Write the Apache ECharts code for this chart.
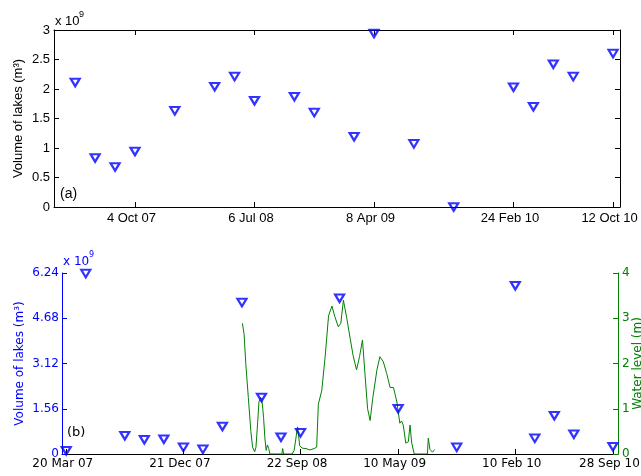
<!DOCTYPE html>
<html>
<head>
<meta charset="utf-8">
<title>Lake volume and water level</title>
<style>
  body { margin: 0; background: #fff; }
  #chart { width: 641px; height: 476px; }
</style>
<script src="https://cdn.jsdelivr.net/npm/echarts@6/dist/echarts.min.js"></script>
</head>
<body>
<div id="chart"></div>
<script>
// panel (a): lake volume, in 10^9 m3
var datesA = ['2007-05-19', '2007-07-04', '2007-08-19', '2007-10-04', '2008-01-04', '2008-04-05',
  '2008-05-21', '2008-07-06', '2008-10-06', '2008-11-21', '2009-02-21', '2009-04-08', '2009-07-09',
  '2009-10-09', '2010-02-24', '2010-04-11', '2010-05-27', '2010-07-12', '2010-10-12'];
var volumeA = [2.11, 0.83, 0.68, 0.94, 1.63, 2.04, 2.21, 1.80, 1.87, 1.60, 1.19, 2.94, 1.07,
  0.0, 2.03, 1.70, 2.42, 2.21, 2.60];
var ticksA = ['2007-10-04', '2008-07-06', '2009-04-08', '2010-02-24', '2010-10-12'];

// panel (b): lake volume, in 10^9 m3
var datesB = ['2007-03-20', '2007-05-05', '2007-08-05', '2007-09-20', '2007-11-05', '2007-12-21',
  '2008-02-05', '2008-03-22', '2008-05-07', '2008-06-22', '2008-08-07', '2008-09-22', '2008-12-23',
  '2009-05-10', '2009-09-25', '2010-02-10', '2010-03-28', '2010-05-13', '2010-06-28', '2010-09-28'];
var volumeB = [0.11, 6.22, 0.63, 0.49, 0.51, 0.23, 0.16, 0.95, 5.22, 1.95, 0.58, 0.73, 5.37,
  1.56, 0.23, 5.80, 0.54, 1.32, 0.68, 0.25];
var ticksB = ['2007-03-20', '2007-12-21', '2008-09-22', '2009-05-10', '2010-02-10', '2010-09-28'];

// panel (b): water level, m
var levelDates = ['2008-05-08', '2008-05-12', '2008-05-16', '2008-05-22', '2008-05-28', '2008-06-01',
  '2008-06-06', '2008-06-09', '2008-06-13', '2008-06-16', '2008-06-20', '2008-06-23', '2008-06-27',
  '2008-06-30', '2008-07-03', '2008-07-06', '2008-07-09', '2008-07-12', '2008-08-09', '2008-08-11',
  '2008-08-13', '2008-09-02', '2008-09-07', '2008-09-11', '2008-09-15', '2008-09-17', '2008-09-20',
  '2008-09-26', '2008-10-05', '2008-10-14', '2008-10-24', '2008-10-30', '2008-11-03', '2008-11-11',
  '2008-11-19', '2008-11-27', '2008-12-05', '2008-12-12', '2008-12-20', '2008-12-26', '2009-01-01',
  '2009-01-09', '2009-01-17', '2009-01-24', '2009-02-01', '2009-02-08', '2009-02-15', '2009-02-21',
  '2009-02-27', '2009-03-05', '2009-03-11', '2009-03-21', '2009-03-28', '2009-04-05', '2009-04-13',
  '2009-04-21', '2009-04-29', '2009-05-07', '2009-05-14', '2009-05-18', '2009-05-22', '2009-05-28',
  '2009-06-03', '2009-06-07', '2009-06-11', '2009-06-17', '2009-07-18', '2009-07-20', '2009-07-24',
  '2009-07-30', '2009-08-04'];
var levelValues = [2.89, 2.65, 2.00, 1.25, 0.50, 0.15,
  0.05, 0.15, 0.70, 1.15, 1.25, 1.20, 0.80,
  0.35, 0.08, 0.20, 0.12, 0.00, 0.00, 0.12,
  0.00, 0.00, 0.08, 0.12, 0.60, 0.45, 0.18,
  0.13, 0.12, 0.09, 0.12, 0.15, 1.10, 1.40,
  2.15, 3.05, 3.27, 3.03, 2.81, 2.89, 3.40,
  3.00, 2.55, 2.17, 1.86, 2.15, 2.52, 1.75,
  1.00, 0.74, 1.22, 1.86, 2.15, 2.04, 1.78,
  1.47, 1.47, 1.15, 0.68, 0.73, 0.64, 0.24,
  0.27, 0.64, 0.24, 0.00, 0.00, 0.35, 0.10,
  0.04, 0.10];

var months = ['Jan', 'Feb', 'Mar', 'Apr', 'May', 'Jun', 'Jul', 'Aug', 'Sep', 'Oct', 'Nov', 'Dec'];

function toTime(s) {
  var p = s.split('-');
  return Date.UTC(+p[0], +p[1] - 1, +p[2]);
}

function dateLabel(v) {
  var d = new Date(v);
  return d.getUTCDate() + ' ' + months[d.getUTCMonth()] + ' ' + String(d.getUTCFullYear()).slice(2);
}

function pairs(dates, values) {
  return dates.map(function (d, i) { return [toTime(d), values[i]]; });
}

var fontA = 'Liberation Sans, Arial, sans-serif';
var fontB = 'DejaVu Sans, sans-serif';
var blue = '#0000ff';
var green = '#008000';

var markerStyle = {
  symbol: 'triangle',
  symbolRotate: 180,
  symbolSize: [9, 7.5],
  itemStyle: { color: 'rgba(0,0,0,0)', borderColor: blue, borderWidth: 2.2 },
  clip: false,
  z: 5
};

var myChart = echarts.init(document.getElementById('chart'), null, { renderer: 'canvas' });

var option = {
  animation: false,
  backgroundColor: '#fff',
  grid: [
    { left: 54, top: 30, width: 566, height: 177, outerBoundsMode: 'none', containLabel: false },
    { left: 62, top: 273, width: 556, height: 181, outerBoundsMode: 'none', containLabel: false }
  ],
  xAxis: [
    {
      gridIndex: 0, type: 'value', min: toTime('2007-03-31'), max: toTime('2010-10-28'),
      axisLine: { show: true, onZero: false, lineStyle: { color: '#000', width: 1 } },
      axisTick: { show: true, inside: true, length: 5, customValues: ticksA.map(toTime), lineStyle: { color: '#000' } },
      axisLabel: {
        customValues: ticksA.map(toTime), formatter: dateLabel, color: '#000',
        fontFamily: fontA, fontSize: 13, margin: 5, padding: [0, 7, 0, 0]
      },
      splitLine: { show: false }
    },
    {
      gridIndex: 0, type: 'value', position: 'top', min: toTime('2007-03-31'), max: toTime('2010-10-28'),
      axisLine: { show: true, onZero: false, lineStyle: { color: '#000', width: 1 } },
      axisTick: { show: true, inside: true, length: 5, customValues: ticksA.map(toTime), lineStyle: { color: '#000' } },
      axisLabel: { show: false },
      splitLine: { show: false }
    },
    {
      gridIndex: 1, type: 'value', min: toTime('2007-03-10'), max: toTime('2010-10-10'),
      axisLine: { show: true, onZero: false, lineStyle: { color: '#000', width: 1 } },
      axisTick: { show: true, inside: true, length: 5, customValues: ticksB.map(toTime), lineStyle: { color: '#000' } },
      axisLabel: {
        customValues: ticksB.map(toTime), formatter: dateLabel, color: '#000',
        fontFamily: fontB, fontSize: 12, margin: 4, padding: [0, 7, 0, 0]
      },
      splitLine: { show: false }
    }
  ],
  yAxis: [
    {
      gridIndex: 0, type: 'value', min: 0, max: 3, interval: 0.5,
      name: 'Volume of lakes (m³)', nameLocation: 'middle', nameRotate: 90, nameGap: 29,
      nameMoveOverlap: false,
      nameTextStyle: { color: '#000', fontFamily: fontA, fontSize: 13 },
      axisLine: { show: true, lineStyle: { color: '#000', width: 1 } },
      axisTick: { show: true, inside: true, length: 5, lineStyle: { color: '#000' } },
      axisLabel: { color: '#000', fontFamily: fontA, fontSize: 13, margin: 4 },
      splitLine: { show: false }
    },
    {
      gridIndex: 0, type: 'value', position: 'right', min: 0, max: 3, interval: 0.5,
      axisLine: { show: true, lineStyle: { color: '#000', width: 1 } },
      axisTick: { show: true, inside: true, length: 5, lineStyle: { color: '#000' } },
      axisLabel: { show: false },
      splitLine: { show: false }
    },
    {
      gridIndex: 1, type: 'value', min: 0, max: 6.24, interval: 1.56,
      name: 'Volume of lakes (m³)', nameLocation: 'middle', nameRotate: 90, nameGap: 36,
      nameMoveOverlap: false,
      nameTextStyle: { color: blue, fontFamily: fontB, fontSize: 12 },
      axisLine: { show: true, lineStyle: { color: blue, width: 1 } },
      axisTick: { show: true, inside: true, length: 5, lineStyle: { color: blue } },
      axisLabel: {
        color: blue, fontFamily: fontB, fontSize: 12, margin: 3,
        formatter: function (v) { return v === 0 ? '0' : v.toFixed(2); }
      },
      splitLine: { show: false }
    },
    {
      gridIndex: 1, type: 'value', position: 'right', min: 0, max: 4, interval: 1,
      name: 'Water level (m)', nameLocation: 'middle', nameRotate: 90, nameGap: 14,
      nameMoveOverlap: false,
      nameTextStyle: { color: green, fontFamily: fontB, fontSize: 12 },
      axisLine: { show: true, lineStyle: { color: green, width: 1 } },
      axisTick: { show: true, inside: true, length: 5, lineStyle: { color: green } },
      axisLabel: { color: green, fontFamily: fontB, fontSize: 12, margin: 4 },
      splitLine: { show: false }
    }
  ],
  graphic: [
    { type: 'text', left: 55, top: 15, style: { text: 'x 10', font: '13px ' + fontA, fill: '#000' } },
    { type: 'text', left: 79, top: 10, style: { text: '9', font: '9px ' + fontA, fill: '#000' } },
    { type: 'text', left: 60, top: 187, style: { text: '(a)', font: '14px ' + fontA, fill: '#000' } },
    { type: 'text', left: 63, top: 256, style: { text: 'x 10', font: '12px ' + fontB, fill: blue } },
    { type: 'text', left: 89, top: 251, style: { text: '9', font: '8px ' + fontB, fill: blue } },
    { type: 'text', left: 67, top: 426, style: { text: '(b)', font: '13px ' + fontB, fill: '#000' } }
  ],
  series: [
    Object.assign({ type: 'scatter', xAxisIndex: 0, yAxisIndex: 0, data: pairs(datesA, volumeA) }, markerStyle),
    {
      type: 'line', xAxisIndex: 2, yAxisIndex: 3, data: pairs(levelDates, levelValues),
      showSymbol: false, lineStyle: { color: green, width: 1 }, z: 2
    },
    Object.assign({ type: 'scatter', xAxisIndex: 2, yAxisIndex: 2, data: pairs(datesB, volumeB) }, markerStyle)
  ]
};

myChart.setOption(option);
</script>
</body>
</html>
